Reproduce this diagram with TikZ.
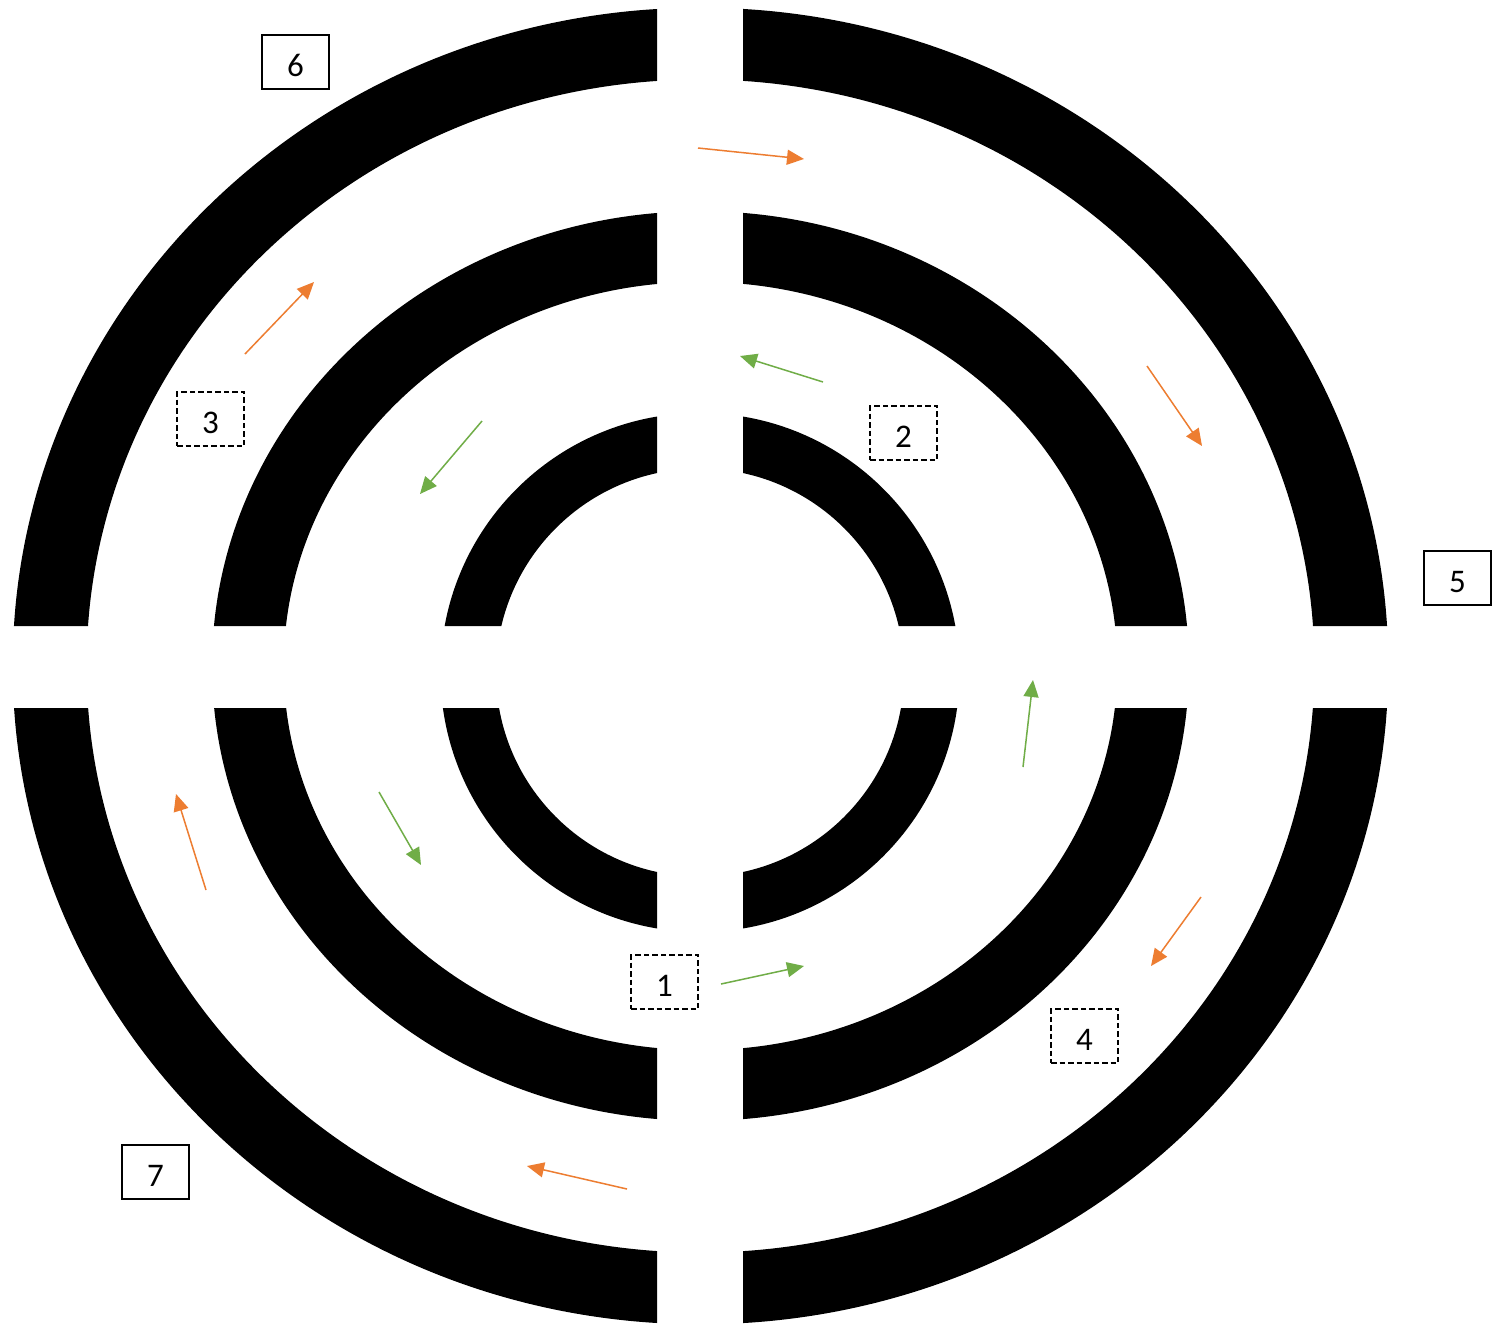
\documentclass[tikz,border=0pt]{standalone}
\usepackage{fontspec}
\setmainfont{Carlito}
\usetikzlibrary{arrows.meta}
\definecolor{arrOrange}{HTML}{ED7D31}
\definecolor{arrGreen}{HTML}{70AD47}
\begin{document}
\begin{tikzpicture}[x=1pt,y=-1pt,
  lbl/.style={draw=black, line width=1.2pt, minimum width=67pt, minimum height=54pt, inner sep=0pt, text height=29pt, text depth=0pt, font=\fontsize{33}{38}\selectfont},
  dlbl/.style={lbl, dash pattern=on 5.5pt off 3pt},
  oarr/.style={draw=arrOrange, line width=1.5pt, -{Triangle[length=17pt,width=15pt]}},
  garr/.style={draw=arrGreen, line width=1.5pt, -{Triangle[length=17pt,width=15pt]}},
  ring/.style={fill=black, even odd rule}]
\useasboundingbox (0,0) rectangle (1501,1323);
\fill[white] (0,0) rectangle (1501,1323);
% rings, cut by the two gaps
\begin{scope}
  \clip (0,0) rectangle (657,626) (743,0) rectangle (1501,626)
        (0,708) rectangle (657,1323) (743,708) rectangle (1501,1323);
  \fill[ring] (700.5,666) ellipse [x radius=687.8, y radius=658.3]
              (700.5,666) ellipse [x radius=613.9, y radius=586.5];
  \fill[ring] (700.5,666) ellipse [x radius=488.4, y radius=454.8]
              (700.5,666) ellipse [x radius=416.8, y radius=384.1];
  \fill[ring] (700,672.5) circle [radius=259.5]
              (700,672.5) circle [radius=204];
\end{scope}
% labels
\node[lbl]  (n6) at (295.5,62) {6};
\node[lbl]  (n5) at (1457.5,578) {5};
\node[lbl]  (n7) at (155.5,1172) {7};
\node[dlbl] (n3) at (210.5,419) {3};
\node[dlbl] (n2) at (903.5,433) {2};
\node[dlbl] (n1) at (664.5,982) {1};
\node[dlbl] (n4) at (1084.5,1036) {4};
% arrow end points
\coordinate (o1s) at (698,148);   \coordinate (o1e) at (804,159);
\coordinate (o2s) at (1147,366);  \coordinate (o2e) at (1202,446);
\coordinate (o3s) at (1201,897);  \coordinate (o3e) at (1151,966);
\coordinate (o4s) at (627,1189);  \coordinate (o4e) at (527,1166);
\coordinate (o5s) at (206,890);   \coordinate (o5e) at (176,794);
\coordinate (o6s) at (245,354);   \coordinate (o6e) at (314,282);
\coordinate (g1s) at (823,382);   \coordinate (g1e) at (740,356);
\coordinate (g2s) at (482,421);   \coordinate (g2e) at (420,494);
\coordinate (g3s) at (379,792);   \coordinate (g3e) at (421,865);
\coordinate (g4s) at (721,984);   \coordinate (g4e) at (804,966);
\coordinate (g5s) at (1023,767);  \coordinate (g5e) at (1033,680);
% arrows
\draw[oarr] (o1s) -- (o1e);
\draw[oarr] (o2s) -- (o2e);
\draw[oarr] (o3s) -- (o3e);
\draw[oarr] (o4s) -- (o4e);
\draw[oarr] (o5s) -- (o5e);
\draw[oarr] (o6s) -- (o6e);
\draw[garr] (g1s) -- (g1e);
\draw[garr] (g2s) -- (g2e);
\draw[garr] (g3s) -- (g3e);
\draw[garr] (g4s) -- (g4e);
\draw[garr] (g5s) -- (g5e);
\end{tikzpicture}
\end{document}
